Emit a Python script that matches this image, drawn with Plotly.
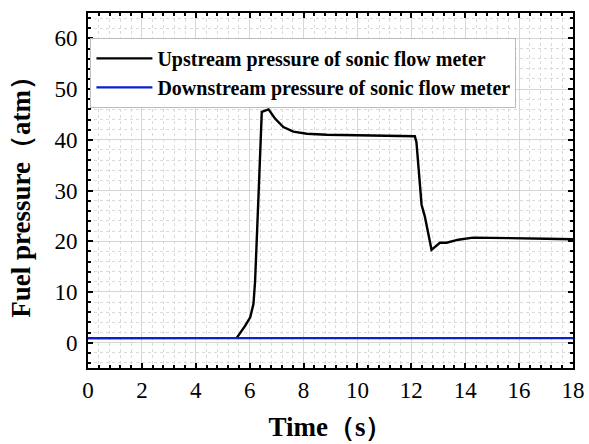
import plotly.graph_objects as go

# Data
up_t = [0.0, 5.52, 5.83, 6.02, 6.14, 6.20, 6.33, 6.45, 6.70, 6.94, 7.25, 7.62, 8.12, 8.86,
        10.0, 11.58, 12.13, 12.19, 12.38, 12.50, 12.75, 13.06, 13.31, 13.74, 14.29, 15.65,
        16.2, 17.0, 18.0]
up_p = [0.9, 0.95, 3.3, 5.0, 7.6, 12.0, 29.2, 45.5, 46.0, 44.2, 42.5, 41.6, 41.2, 41.0,
        40.9, 40.7, 40.7, 39.5, 27.2, 24.9, 18.3, 19.7, 19.7, 20.3, 20.7, 20.6,
        20.6, 20.5, 20.4]
down_t = [0.0, 18.0]
down_p = [0.9, 0.9]

x_ticks = [0, 2, 4, 6, 8, 10, 12, 14, 16, 18]
y_ticks = [0, 10, 20, 30, 40, 50, 60]

serif = "Liberation Serif"

fig = go.Figure()
fig.add_trace(go.Scatter(x=up_t, y=up_p, mode="lines",
                         line=dict(color="black", width=2.4),
                         name="<b>Upstream pressure of sonic flow meter</b>"))
fig.add_trace(go.Scatter(x=down_t, y=down_p, mode="lines",
                         line=dict(color="#0a1fd0", width=2.4),
                         name="<b>Downstream pressure of sonic flow meter</b>"))

axis_common = dict(
    showline=True, linecolor="black", linewidth=2, mirror="allticks",
    ticks="inside", ticklen=5, tickwidth=2, tickcolor="black",
    showgrid=True, gridcolor="#d6d6d6", gridwidth=1, zeroline=False,
    tickfont=dict(family=serif, size=23, color="black"),
    automargin=False,
)

fig.update_xaxes(
    range=[0, 18], tickvals=x_ticks,
    title=dict(text="<b>Time（s）</b>", font=dict(family=serif, size=27, color="black"), standoff=16),
    minor=dict(dtick=0.4, tick0=0, ticks="inside", ticklen=3, tickwidth=1.5, tickcolor="black",
               showgrid=True, gridcolor="#dadada", griddash="dot", gridwidth=1),
    ticklabelstandoff=0,
    **axis_common,
)
fig.update_yaxes(
    range=[-5, 65], tickvals=y_ticks,
    title=dict(text="<b>Fuel pressure（atm）</b>", font=dict(family=serif, size=27, color="black"), standoff=16),
    minor=dict(dtick=2, tick0=0, ticks="inside", ticklen=3, tickwidth=1.5, tickcolor="black",
               showgrid=True, gridcolor="#dadada", griddash="dot", gridwidth=1),
    ticklabelstandoff=4,
    **axis_common,
)

fig.update_layout(
    width=589, height=444,
    margin=dict(l=88, r=16, t=13, b=76),
    plot_bgcolor="white", paper_bgcolor="white",
    showlegend=True,
    legend=dict(x=0.005, y=0.93, xanchor="left", yanchor="top",
                bgcolor="white", bordercolor="#bbbbbb", borderwidth=1,
                font=dict(family=serif, size=20, color="black"),
                itemwidth=56, tracegroupgap=0),
)

fig.write_html("out.html",
               config={"displayModeBar": False},
               post_script="document.body.style.margin='0';document.body.style.overflow='hidden';")
